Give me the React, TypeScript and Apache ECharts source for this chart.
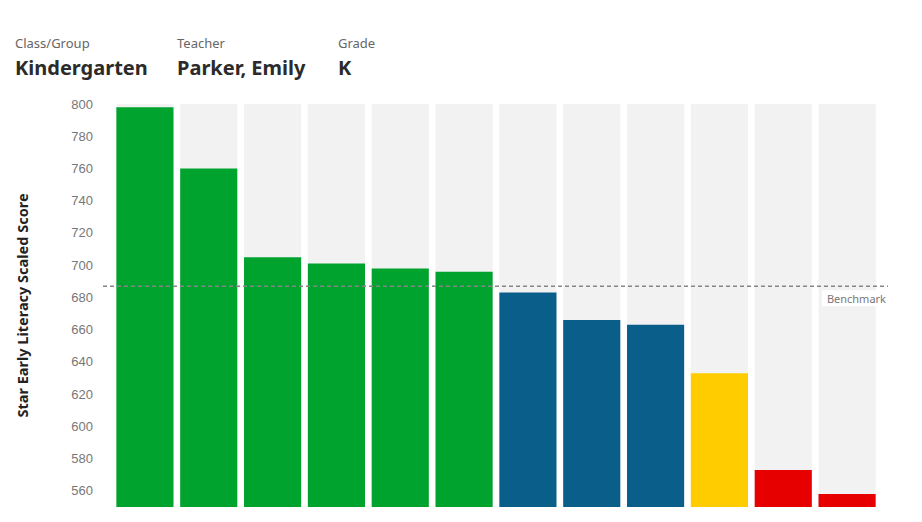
import React, { useEffect, useRef } from "react";
import * as echarts from "echarts";

const students = ["S1", "S2", "S3", "S4", "S5", "S6", "S7", "S8", "S9", "S10", "S11", "S12"];
const scores = [798, 760, 705, 701, 698, 696, 683, 666, 663, 633, 573, 558];
const bandColors = ["#00A32E", "#00A32E", "#00A32E", "#00A32E", "#00A32E", "#00A32E", "#0A5E8A", "#0A5E8A", "#0A5E8A", "#FFCC00", "#E60000", "#E60000"];
const benchmark = 687;
const yMin = 550;
const yMax = 800;
const labelStep = 20;
const headerLabels = ["Class/Group", "Teacher", "Grade"];
const headerValues = ["Kindergarten", "Parker, Emily", "K"];

export default function App() {
  const ref = useRef<HTMLDivElement>(null);
  useEffect(() => {
    if (!ref.current) return;
    const chart = echarts.init(ref.current, undefined, { renderer: "svg" });
    const headerX = [15, 177, 338];
    const header: any[] = [];
    headerLabels.forEach((t, i) => {
      header.push({
        type: "text", left: headerX[i], top: 36,
        style: { text: t, font: "13px 'Noto Sans'", fill: "#666" },
      });
      header.push({
        type: "text", left: headerX[i], top: 57,
        style: { text: headerValues[i], font: "bold 20px 'Noto Sans'", fill: "#2b2b2b" },
      });
    });
    chart.setOption({
      animation: false,
      backgroundColor: "#ffffff",
      grid: { left: 113, right: 43, top: 104, bottom: 15, containLabel: false },
      xAxis: {
        type: "category",
        data: students,
        axisLine: { show: false },
        axisTick: { show: false },
        axisLabel: { show: false },
      },
      yAxis: {
        type: "value",
        min: yMin,
        max: yMax,
        interval: 10,
        name: "Star Early Literacy Scaled Score",
        nameLocation: "middle",
        nameGap: 84,
        nameTextStyle: { fontFamily: "Noto Sans", fontWeight: "bold", fontSize: 14.5, color: "#222" },
        axisLine: { show: false },
        axisTick: { show: false },
        splitLine: { show: false },
        axisLabel: {
          fontFamily: "Liberation Sans",
          fontSize: 13,
          color: "#777",
          margin: 20,
          formatter: (v: number) => ((v - 560) % labelStep === 0 && v >= 560 ? String(v) : ""),
        },
      },
      series: [
        {
          type: "bar",
          barCategoryGap: "10.5%",
          showBackground: true,
          backgroundStyle: { color: "#f2f2f2" },
          data: scores.map((v, i) => ({ value: v, itemStyle: { color: bandColors[i] } })),
        },
      ],
      graphic: header,
    });
    const y = chart.convertToPixel({ yAxisIndex: 0 }, benchmark) as number;
    chart.setOption({
      graphic: [
        ...header,
        {
          type: "line",
          shape: { x1: 103, y1: y, x2: 888, y2: y },
          style: { stroke: "#858585", lineWidth: 1.5, lineDash: [4, 3] },
          z: 10,
        },
        {
          type: "rect",
          shape: { x: 822, y: y + 4, width: 66, height: 16 },
          style: { fill: "#ffffff" },
          z: 10,
        },
        {
          type: "text",
          x: 886,
          y: y + 12,
          style: { text: "Benchmark", font: "11px 'Noto Sans'", fill: "#777", textAlign: "right", textVerticalAlign: "middle" },
          z: 11,
        },
      ],
    });
    return () => chart.dispose();
  }, []);
  return <div ref={ref} style={{ position: "fixed", left: 0, top: 0, width: 922, height: 522 }} />;
}
